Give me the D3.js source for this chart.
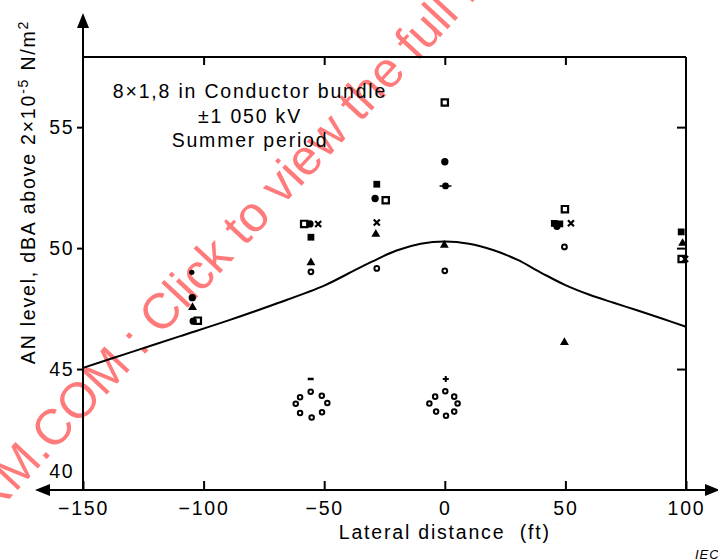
<!DOCTYPE html>
<html>
<head>
<meta charset="utf-8">
<script src="https://cdn.jsdelivr.net/npm/d3@7"></script>
<style>
  html, body { margin: 0; padding: 0; background: #fff; }
  svg { display: block; font-family: "Liberation Sans", Arial, sans-serif; }
  .lbl { font-size: 19.5px; letter-spacing: 1.8px; fill: #000; }
</style>
</head>
<body>
<div id="chart"></div>
<script>
// AN level vs lateral distance
const xTicks = [-150, -100, -50, 0, 50, 100];
const yTicks = [40, 45, 50, 55];

// calculated curve
const curveDist  = [-150, -130, -110, -90, -70, -50, -40, -30, -20, -10, 0, 10, 20, 30, 40, 50, 60, 70, 80, 90, 100];
const curveLevel = [45.05, 45.7, 46.35, 47.0, 47.7, 48.45, 48.95, 49.45, 49.9, 50.18, 50.27, 50.18, 49.92, 49.52, 48.98, 48.47, 48.07, 47.74, 47.42, 47.09, 46.75];

// measured points, grouped by marker
const openSquarePts   = [[-58.3, 51.0], [-24.5, 51.98], [0, 56.02], [49.8, 51.61], [-102.4, 47.0], [98.2, 49.55]];
const filledSquarePts = [[-55.5, 50.45], [-28.2, 52.64], [45.4, 51.02], [47.7, 51.0], [98.0, 50.67]];
const filledCirclePts = [[-55.9, 51.0], [-28.9, 52.05], [0, 53.57], [-104.7, 47.95], [-104.3, 46.98], [46.5, 50.9]];
const smallDotPts     = [[-104.9, 49.0]];
const crossPts        = [[-52.5, 51.0], [-28.2, 51.06], [52.3, 51.03], [99.6, 49.55]];
const trianglePts     = [[-55.5, 49.4], [-28.6, 50.58], [-0.2, 50.12], [49.6, 46.1], [-104.6, 47.55], [98.6, 50.2]];
const openCirclePts   = [[-55.5, 49.02], [-28.2, 49.16], [0, 49.06], [49.6, 50.05]];
const ringPts = [[-55.6, 44.06], [-51.0, 43.9], [-48.7, 43.6], [-50.9, 43.21], [-55.2, 43.0], [-60.0, 43.18], [-61.8, 43.57], [-60.0, 43.83],
                 [0.2, 44.08], [3.9, 43.86], [5.3, 43.58], [3.9, 43.24], [0.5, 43.07], [-3.6, 43.24], [-6.4, 43.58], [-4.0, 43.86]];
const plusPts    = [[0.4, 44.59]];
const dashPts    = [[-55.6, 44.59]];
const dashDotPts = [[0.3, 52.57]];

const W = 718, H = 559;
const margin = { top: 57, right: 32, bottom: 69, left: 83 };

const svg = d3.select("#chart").append("svg")
    .attr("width", W)
    .attr("height", H);

const x = d3.scaleLinear().domain([-150, 100]).range([margin.left, W - margin.right]);
const y = d3.scaleLinear().domain([40, 57.9]).range([H - margin.bottom, margin.top]);

const x0 = x.range()[0], x1 = x.range()[1];
const yB = y.range()[0], yT = y.range()[1];

// watermark behind the chart
const wm = svg.append("g")
    .attr("transform", "translate(15,493) rotate(-47)")
    .style("font-size", "50px")
    .style("fill", "rgba(255,40,40,0.62)");
wm.append("text").attr("text-anchor", "end").text("IECNOR");
wm.append("text").attr("text-anchor", "start").text("M.COM : Click to view the full PDF of IEC");

// ticks
svg.append("g")
    .attr("transform", "translate(0," + yB + ")")
    .call(d3.axisBottom(x).tickValues(xTicks).tickSize(-9).tickPadding(11).tickFormat(d3.format("d")))
    .call(g => g.select(".domain").remove())
    .call(g => g.selectAll("line").attr("stroke-width", 2))
    .call(g => g.selectAll("text").attr("class", "lbl").attr("fill", null).attr("font-family", null));

svg.append("g")
    .attr("transform", "translate(0," + yT + ")")
    .call(d3.axisTop(x).tickValues([-100, -50, 0, 50]).tickSize(-8).tickFormat(""))
    .call(g => g.select(".domain").remove())
    .call(g => g.selectAll("line").attr("stroke-width", 2));

svg.append("g")
    .attr("transform", "translate(" + x0 + ",0)")
    .call(d3.axisLeft(y).tickValues(yTicks).tickSize(6).tickPadding(2.5))
    .call(g => g.select(".domain").remove())
    .call(g => g.selectAll("line").attr("stroke-width", 2))
    .call(g => g.selectAll("text").attr("class", "lbl").attr("fill", null).attr("font-family", null))
    .call(g => g.selectAll(".tick").filter(d => d === 40).select("text").attr("y", -19))
    .call(g => g.selectAll(".tick").filter(d => d === 40).select("line").remove());

svg.append("g")
    .attr("transform", "translate(" + x1 + ",0)")
    .call(d3.axisRight(y).tickValues([45, 50, 55]).tickSize(-9).tickFormat(""))
    .call(g => g.select(".domain").remove())
    .call(g => g.selectAll("line").attr("stroke-width", 2));

// frame + arrows
const frame = svg.append("g").attr("stroke", "#000").attr("stroke-width", 2).attr("fill", "none");
frame.append("line").attr("x1", 48).attr("x2", W - 12).attr("y1", yB).attr("y2", yB);
frame.append("line").attr("x1", x0).attr("x2", x0).attr("y1", 26).attr("y2", yB);
frame.append("line").attr("x1", x0).attr("x2", x1).attr("y1", yT).attr("y2", yT);
frame.append("line").attr("x1", x1).attr("x2", x1).attr("y1", yT).attr("y2", yB);

const arrows = svg.append("g").attr("fill", "#000");
arrows.append("path").attr("d", `M${x0},13 L${x0 - 6},28 L${x0 + 6},28 Z`);
arrows.append("path").attr("d", `M35,${yB} L50,${yB - 6} L50,${yB + 6} Z`);
arrows.append("path").attr("d", `M${W + 2},${yB} L${W - 13},${yB - 6} L${W - 13},${yB + 6} Z`);

// curve
const line = d3.line()
    .x((d, i) => x(curveDist[i]))
    .y(d => y(d))
    .curve(d3.curveCatmullRom);

svg.append("path")
    .datum(curveLevel)
    .attr("d", line)
    .attr("fill", "none")
    .attr("stroke", "#000")
    .attr("stroke-width", 2);

// markers
const symX = { draw(ctx, size) { const r = Math.sqrt(size) / 2; ctx.moveTo(-r, -r); ctx.lineTo(r, r); ctx.moveTo(r, -r); ctx.lineTo(-r, r); } };
const symPlus = { draw(ctx, size) { const r = Math.sqrt(size) / 2; ctx.moveTo(-r, 0); ctx.lineTo(r, 0); ctx.moveTo(0, -r); ctx.lineTo(0, r); } };
const symDash = { draw(ctx, size) { const r = Math.sqrt(size) / 2; ctx.moveTo(-r, 0); ctx.lineTo(r, 0); } };
const symDashDot = { draw(ctx, size) {
    const r = Math.sqrt(size) / 2;
    ctx.moveTo(-r, 0); ctx.lineTo(r, 0);
    ctx.moveTo(2.6, 0); ctx.arc(0, 0, 2.6, 0, 2 * Math.PI);
} };

const markerSets = [
    { pts: openSquarePts,   type: d3.symbolSquare,   size: 40, fill: "#fff", stroke: "#000", sw: 2.2 },
    { pts: filledSquarePts, type: d3.symbolSquare,   size: 46, fill: "#000", stroke: "none", sw: 0 },
    { pts: filledCirclePts, type: d3.symbolCircle,   size: 42, fill: "#000", stroke: "none", sw: 0 },
    { pts: smallDotPts,     type: d3.symbolCircle,   size: 22, fill: "#000", stroke: "none", sw: 0 },
    { pts: crossPts,        type: symX,              size: 36, fill: "none", stroke: "#000", sw: 2.2 },
    { pts: trianglePts,     type: d3.symbolTriangle, size: 34, fill: "#000", stroke: "none", sw: 0 },
    { pts: openCirclePts,   type: d3.symbolCircle,   size: 18, fill: "#fff", stroke: "#000", sw: 2 },
    { pts: ringPts,         type: d3.symbolCircle,   size: 16, fill: "#fff", stroke: "#000", sw: 2 },
    { pts: plusPts,         type: symPlus,           size: 36, fill: "none", stroke: "#000", sw: 2 },
    { pts: dashPts,         type: symDash,           size: 36, fill: "none", stroke: "#000", sw: 2.5 },
    { pts: dashDotPts,      type: symDashDot,        size: 140, fill: "#000", stroke: "#000", sw: 1.6 }
];

markerSets.forEach(s => {
    svg.append("g").selectAll("path")
        .data(s.pts)
        .enter()
        .append("path")
        .attr("transform", d => "translate(" + x(d[0]) + "," + y(d[1]) + ")")
        .attr("d", d3.symbol().type(s.type).size(s.size))
        .attr("fill", s.fill)
        .attr("stroke", s.stroke)
        .attr("stroke-width", s.sw);
});

// annotation
const note = svg.append("text")
    .attr("class", "lbl")
    .attr("text-anchor", "middle");
["8×1,8 in Conductor bundle", "±1 050 kV", "Summer period"].forEach((t, i) => {
    note.append("tspan").attr("x", 250).attr("y", 98 + i * 24.5).text(t);
});

// axis titles
svg.append("text")
    .attr("class", "lbl")
    .attr("x", x(0))
    .attr("y", 539)
    .attr("text-anchor", "middle")
    .style("white-space", "pre")
    .text("Lateral distance  (ft)");

const yl = svg.append("text")
    .attr("class", "lbl")
    .attr("transform", "translate(35,192) rotate(-90)")
    .attr("text-anchor", "middle");
yl.append("tspan").text("AN level, dBA above 2×10");
yl.append("tspan").attr("dy", -7).style("font-size", "14px").text("-5");
yl.append("tspan").attr("dy", 7).text(" N/m");
yl.append("tspan").attr("dy", -7).style("font-size", "14px").text("2");

svg.append("text")
    .attr("x", 695)
    .attr("y", 559)
    .style("font-size", "13px")
    .style("font-style", "italic")
    .style("letter-spacing", "1px")
    .text("IEC");
</script>
</body>
</html>
